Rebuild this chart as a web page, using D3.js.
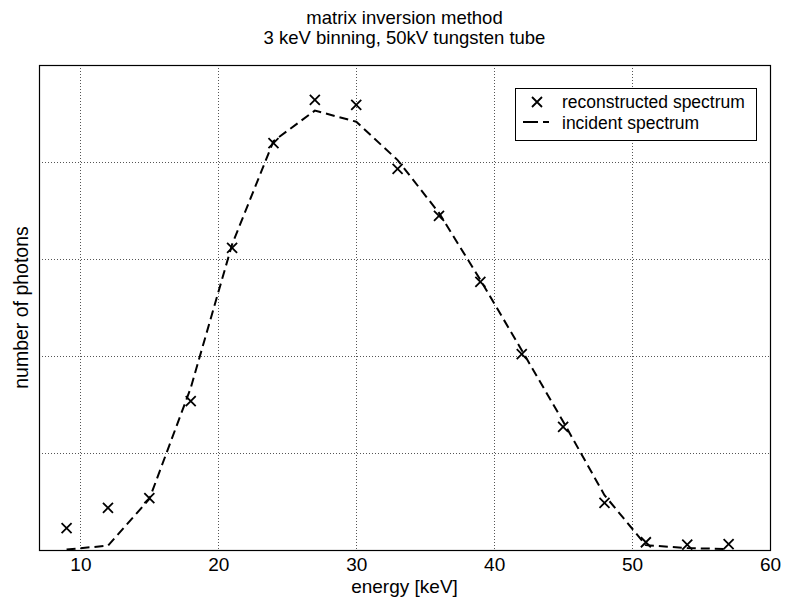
<!DOCTYPE html>
<html>

<head>
    <title>matrix inversion method</title>
    <script src="https://d3js.org/d3.v7.min.js"></script>
    <style>
        body { margin: 0; background: #fff; }
        text { font-family: "Liberation Sans", Arial, sans-serif; fill: #000; }
    </style>
</head>

<body>
    <svg width="786" height="606"></svg>

    <script>
        // energy bins [keV]
        let energies = [9, 12, 15, 18, 21, 24, 27, 30, 33, 36, 39, 42, 45, 48, 51, 54, 57];
        // reconstructed spectrum (crosses), arbitrary units
        let reconstructed = [45, 87, 107, 307, 623, 839, 928, 918, 786, 689, 553, 404, 254, 97, 16, 11, 12];
        // incident spectrum (dashed), arbitrary units
        let incident = [1, 9, 105, 334, 630, 843, 906, 883, 804, 695, 557, 412, 265, 113, 10, 4, 2];

        let xTicks = [10, 20, 30, 40, 50, 60];
        let yGrid = [200, 400, 600, 800];

        let svg = d3.select("svg"),
            margin = { top: 65, right: 16, bottom: 56, left: 39 },
            width = +svg.attr("width") - margin.left - margin.right,
            height = +svg.attr("height") - margin.top - margin.bottom;

        let x = d3.scaleLinear().domain([7, 60]).range([0, width]);
        let y = d3.scaleLinear().domain([0, 1000]).range([height, 0]);

        let g = svg.append("g").attr("transform", `translate(${margin.left},${margin.top})`);

        // grid (dotted)
        g.selectAll(".vgrid").data(xTicks.slice(0, -1)).enter().append("line")
            .attr("x1", d => Math.round(x(d)) + 0.5).attr("x2", d => Math.round(x(d)) + 0.5)
            .attr("y1", 0).attr("y2", height)
            .attr("stroke", "#555").attr("stroke-width", 1).attr("stroke-dasharray", "1,2");
        g.selectAll(".hgrid").data(yGrid).enter().append("line")
            .attr("x1", 0).attr("x2", width)
            .attr("y1", d => Math.round(y(d)) + 0.5).attr("y2", d => Math.round(y(d)) + 0.5)
            .attr("stroke", "#555").attr("stroke-width", 1).attr("stroke-dasharray", "1,2");

        // x axis labels
        let xAxis = d3.axisBottom(x).tickValues(xTicks).tickSize(0).tickPadding(8);
        let ax = g.append("g").attr("transform", `translate(0,${height})`).call(xAxis);
        ax.select(".domain").remove();
        ax.selectAll("text").style("font-size", "19px").style("font-family", "Liberation Sans, Arial, sans-serif");

        // frame
        g.append("rect").attr("x", 0.5).attr("y", 0.5).attr("width", width).attr("height", height)
            .attr("fill", "none").attr("stroke", "#000").attr("stroke-width", 1.2);

        // incident spectrum
        let line = d3.line().x((d, i) => x(energies[i])).y(d => y(d));
        g.append("path").datum(incident)
            .attr("d", line)
            .attr("fill", "none").attr("stroke", "#000").attr("stroke-width", 2)
            .attr("stroke-dasharray", "9,5");

        // reconstructed crosses
        let s = 5;
        g.selectAll(".cross").data(reconstructed).enter().append("path")
            .attr("d", (d, i) => {
                let cx = x(energies[i]), cy = y(d);
                return `M${cx - s},${cy - s}L${cx + s},${cy + s}M${cx - s},${cy + s}L${cx + s},${cy - s}`;
            })
            .attr("stroke", "#000").attr("stroke-width", 1.8).attr("fill", "none");

        // legend
        let lg = svg.append("g").attr("transform", "translate(515,88)");
        lg.append("rect").attr("x", 0.5).attr("y", 0.5).attr("width", 241).attr("height", 52)
            .attr("fill", "#fff").attr("stroke", "#000").attr("stroke-width", 1);
        lg.append("path").attr("d", `M${22 - s},${14 - s}L${22 + s},${14 + s}M${22 - s},${14 + s}L${22 + s},${14 - s}`)
            .attr("stroke", "#000").attr("stroke-width", 1.8);
        lg.append("line").attr("x1", 8).attr("x2", 34).attr("y1", 34).attr("y2", 34)
            .attr("stroke", "#000").attr("stroke-width", 2).attr("stroke-dasharray", "15,5");
        lg.append("text").attr("x", 47).attr("y", 20).style("font-size", "17.5px").text("reconstructed spectrum");
        lg.append("text").attr("x", 47).attr("y", 41).style("font-size", "17.5px").text("incident spectrum");

        // titles
        let cx = margin.left + width / 2;
        svg.append("text").attr("x", cx).attr("y", 24).attr("text-anchor", "middle")
            .style("font-size", "18.5px").text("matrix inversion method");
        svg.append("text").attr("x", cx).attr("y", 44).attr("text-anchor", "middle")
            .style("font-size", "18.5px").text("3 keV binning, 50kV tungsten tube");
        svg.append("text").attr("x", cx).attr("y", 593).attr("text-anchor", "middle")
            .style("font-size", "19px").text("energy [keV]");
        svg.append("text").attr("transform", `translate(28,${margin.top + height / 2}) rotate(-90)`)
            .attr("text-anchor", "middle").style("font-size", "19.5px").text("number of photons");
    </script>
</body>

</html>
